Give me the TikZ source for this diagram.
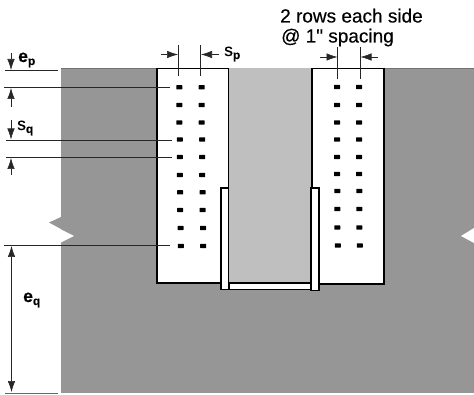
\documentclass[tikz,border=0pt]{standalone}
\usepackage{fontspec}
\setmainfont{Liberation Sans}[Ligatures=TeXOff]
\newfontfamily\heavyfont{Liberation Sans}[Ligatures=TeXOff,FakeBold=0.4]
\usetikzlibrary{arrows.meta}
\definecolor{concrete}{gray}{0.59}
\definecolor{web}{gray}{0.75}
\tikzset{
  x=1pt,y=-1pt,
  plate/.style={fill=white,draw=black,line width=1.1pt,line join=miter},
  dimline/.style={draw=black!85,line width=0.7pt},
  dimarrow/.style={draw=black!85,line width=0.6pt,-{Latex[length=11pt,width=7.5pt]}},
  dimboth/.style={draw=black!85,line width=0.6pt,{Latex[length=11pt,width=7.5pt]}-{Latex[length=11pt,width=7.5pt]}},
  lab/.style={inner sep=0pt,font=\heavyfont\fontsize{17.5}{17.5}\selectfont},
  toplab/.style={inner sep=0pt,font=\heavyfont\fontsize{19}{19}\selectfont},
  bolt/.style={fill=black,rounded corners=0.6pt}
}
\newcommand{\boltat}[2]{\fill[bolt] (#1-3,#2-2.2) rectangle (#1+3,#2+2.2);}
\newcommand{\subsc}[1]{\raisebox{-3pt}{\fontsize{12}{12}\selectfont\textbf{#1}}}
\begin{document}
\begin{tikzpicture}
\useasboundingbox (0,0) rectangle (474,395);
\fill[white] (0,0) rectangle (474,395);
% concrete
\fill[concrete] (61,68) rectangle (474,393);
\draw[black!55,line width=0.8pt] (61,68.3) -- (474,68.3);
% notches
\fill[concrete] (61,217) -- (49,222.5) -- (61,229) -- cycle;
\fill[white] (61,229.5) -- (74,236) -- (61,242.5) -- cycle;
\fill[white] (474,228) -- (461,236) -- (474,243) -- cycle;
% web
\fill[web] (228,68) rectangle (312,282);
% side plates
\draw[plate] (157,68.5) rectangle (228.5,283);
\draw[plate] (312,68.5) rectangle (384,284);
% angles
\draw[plate] (221,188) rectangle (228.5,289.5);
\draw[plate] (311,188) rectangle (319,290.5);
\draw[plate] (229,283) rectangle (311,289.5);
% bolts
\foreach \y/\d in {87.3/0,105/0,122.5/0,139.5/0.5,157/0.5,175/0.5,192.3/0.8,210/0.8,228/1.3,246/1.5}{
  \boltat{179.3+\d}{\y}
  \boltat{201.7+\d}{\y}
}
\foreach \y/\d in {87/0,105/0,122.5/0,139.5/0,157/0,174/0,191/0.3,209/0.3,227.5/0.3,245.5/0.8}{
  \boltat{337+\d}{\y}
  \boltat{359+\d}{\y}
}
% dimension references
\coordinate (epA) at (5,70.5);   \coordinate (epB) at (58,70.5);
\coordinate (epC) at (4,87.3);   \coordinate (epD) at (170,87.3);
\coordinate (sqA) at (6,140);    \coordinate (sqB) at (172,140);
\coordinate (sqC) at (6,157.5);  \coordinate (sqD) at (172,157.5);
\coordinate (eqA) at (4,245);    \coordinate (eqB) at (170,245);
\coordinate (eqC) at (5,393);    \coordinate (eqD) at (58,393);
\draw[dimline] (epA) -- (epB);
\draw[dimline] (epC) -- (epD);
\draw[dimline] (sqA) -- (sqB);
\draw[dimline] (sqC) -- (sqD);
\draw[dimline] (eqA) -- (eqB);
\draw[dimline,black!60] (eqC) -- (eqD);
% vertical arrows
\coordinate (a1) at (11,53);   \coordinate (a1e) at (11,70);
\coordinate (a2) at (11,107);  \coordinate (a2e) at (11,88);
\coordinate (a3) at (11,120);  \coordinate (a3e) at (11,139.5);
\coordinate (a4) at (11,175);  \coordinate (a4e) at (11,158);
\coordinate (a5) at (11.5,246);\coordinate (a5e) at (11.5,392);
\draw[dimarrow] (a1) -- (a1e);
\draw[dimarrow] (a2) -- (a2e);
\draw[dimarrow] (a3) -- (a3e);
\draw[dimarrow] (a4) -- (a4e);
\draw[dimboth] (a5) -- (a5e);
% s_p dimension, left
\coordinate (s1t) at (178,45); \coordinate (s1b) at (178,76);
\coordinate (s2t) at (200.5,45); \coordinate (s2b) at (200.5,76);
\draw[dimline] (s1t) -- (s1b);
\draw[dimline] (s2t) -- (s2b);
\coordinate (s1a) at (161,54.5); \coordinate (s1e) at (178,54.5);
\coordinate (s2a) at (219,54.5); \coordinate (s2e) at (201,54.5);
\draw[dimarrow] (s1a) -- (s1e);
\draw[dimarrow] (s2a) -- (s2e);
% spacing dimension, right
\coordinate (r1t) at (337.5,47); \coordinate (r1b) at (337.5,79);
\coordinate (r2t) at (360,47);   \coordinate (r2b) at (360,79);
\draw[dimline] (r1t) -- (r1b);
\draw[dimline] (r2t) -- (r2b);
\coordinate (r1a) at (320,57); \coordinate (r1e) at (337.5,57);
\coordinate (r2a) at (378,57); \coordinate (r2e) at (360.5,57);
\draw[dimarrow] (r1a) -- (r1e);
\draw[dimarrow] (r2a) -- (r2e);
% labels
\node[lab,anchor=base west] (ep) at (18,62) {\textbf{e}\subsc{p}};
\node[lab,anchor=base west] (sq) at (17,130) {s\subsc{q}};
\node[lab,anchor=base west] (eq) at (23,302) {\textbf{e}\subsc{q}};
\node[lab,anchor=base west] (sp) at (224,56) {s\subsc{p}};
\node[toplab,anchor=base] (t1) at (351.5,22.5) {2 rows each side};
\node[toplab,anchor=base] (t2) at (337.5,42.5) {@ 1" spacing};
\end{tikzpicture}
\end{document}
